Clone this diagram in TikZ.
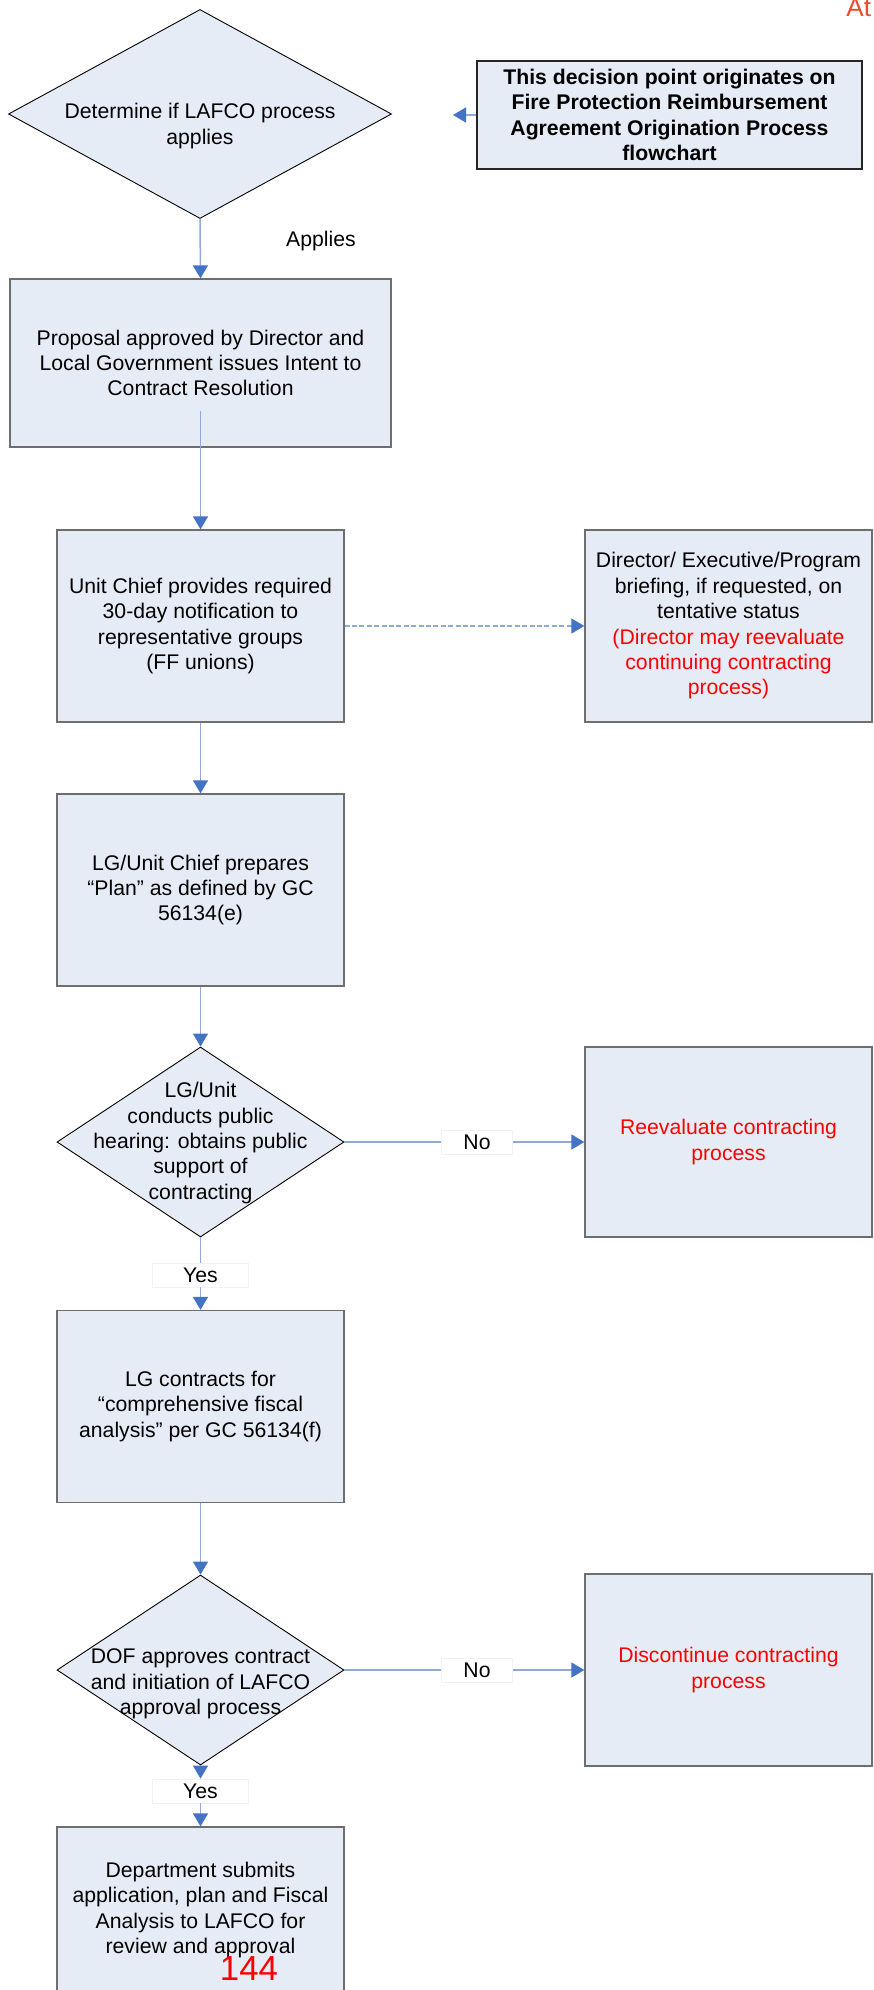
\documentclass[tikz,border=0pt]{standalone}
\usepackage{fontspec}
\setmainfont{Liberation Sans}
\usetikzlibrary{positioning,arrows.meta,shapes.geometric}
\definecolor{boxfill}{HTML}{E6ECF6}
\definecolor{boxline}{HTML}{6E6E6E}
\definecolor{linkblue}{HTML}{8EAADB}
\definecolor{tipblue}{HTML}{4472C4}
\definecolor{notered}{HTML}{FF0000}
\definecolor{pagered}{HTML}{EC4A2C}
\newcommand{\chartfont}{\fontsize{10.6}{12.7}\selectfont}

\begin{document}
\begin{tikzpicture}[x=0.5pt,y=-0.5pt,
    every node/.style={font=\chartfont},
    procbox/.style={rectangle,draw=boxline,line width=0.65pt,fill=boxfill,align=center,
      minimum width=143.5pt,minimum height=96pt,inner sep=2pt},
    decision/.style={diamond,draw=black,line width=0.45pt,fill=boxfill,
      minimum width=143.5pt,minimum height=95pt,inner sep=0pt},
    dtext/.style={align=center,inner sep=0pt},
    answer/.style={fill=white,draw=gray!10,minimum height=12pt,inner sep=0pt},
    link/.style={linkblue,line width=0.75pt},
    arrow/.style={link,-{Triangle[length=6.5pt,width=7.5pt,color=tipblue]}},
    dasharrow/.style={arrow,dash pattern=on 2.5pt off 1.2pt},
  ]
  \useasboundingbox (0,0) rectangle (873,1990);
  \node[decision,minimum width=191.5pt,minimum height=104.5pt] (lafco) at (200,114) {};
  \node[dtext] (lafcotxt) at (200,126) {Determine if LAFCO process\\applies};
  \node[procbox,draw=black!85,line width=0.75pt,minimum width=192.5pt,minimum height=54pt,
    font=\chartfont\bfseries] (origin) at (669.5,115)
    {This decision point originates on\\Fire Protection Reimbursement\\Agreement Origination Process\\flowchart};
  \coordinate (originend) at (453,115);
  \draw[arrow] (origin.west) -- (originend);
  \node (applies) at (321,241) {Applies};
  \node[procbox,minimum width=190.5pt,minimum height=84pt] (intent) at (200.5,363)
    {Proposal approved by Director and\\Local Government issues Intent to\\Contract Resolution};
  \draw[arrow] (lafco.south) -- (intent.north);
  \node[procbox] (notify) at (200.5,626)
    {Unit Chief provides required\\30-day notification to\\representative groups\\(FF unions)};
  \node[procbox] (brief) at (728.5,626)
    {Director/ Executive/Program\\briefing, if requested, on\\tentative status\\
     \textcolor{notered}{(Director may reevaluate}\\\textcolor{notered}{continuing contracting}\\
     \textcolor{notered}{process)}};
  \draw[arrow] ([yshift=18.5pt]intent.south) -- (notify.north);
  \draw[dasharrow] (notify.east) -- (brief.west);
  \node[procbox] (plan) at (200.5,890) {LG/Unit Chief prepares\\“Plan” as defined by GC\\56134(e)};
  \draw[arrow] (notify) -- (plan);
  \node[decision] (hearing) at (200.5,1142) {};
  \node[dtext] (hearingtxt) at (200.5,1143)
    {LG/Unit\\conducts public\\hearing: obtains public\\support of\\contracting};
  \draw[arrow] (plan) -- (hearing);
  \node[procbox,minimum height=95pt] (reeval) at (728.5,1142)
    {\textcolor{notered}{Reevaluate contracting}\\\textcolor{notered}{process}};
  \node[answer,minimum width=35.5pt] (no1) at (477,1142) {No};
  \draw[link] (hearing.east) -- (no1.west);
  \draw[arrow] (no1.east) -- (reeval.west);
  \node[answer,minimum width=48pt] (yes1) at (200.5,1275) {Yes};
  \draw[link] (hearing.south) -- (yes1.north);
  \node[procbox] (fiscal) at (200.5,1406.5)
    {LG contracts for\\“comprehensive fiscal\\analysis” per GC 56134(f)};
  \draw[arrow] (yes1.south) -- (fiscal.north);
  \node[decision] (dof) at (200.5,1670) {};
  \node[dtext] (doftxt) at (200.5,1684) {DOF approves contract\\and initiation of LAFCO\\approval process};
  \draw[arrow] (fiscal) -- (dof);
  \node[procbox] (discont) at (728.5,1670)
    {\textcolor{notered}{Discontinue contracting}\\\textcolor{notered}{process}};
  \node[answer,minimum width=35.5pt] (no2) at (477,1670) {No};
  \draw[link] (dof.east) -- (no2.west);
  \draw[arrow] (no2.east) -- (discont.west);
  \node[answer,minimum width=48pt] (yes2) at (200.5,1791) {Yes};
  \draw[arrow] (dof.south) -- (yes2.north);
  \node[procbox,minimum height=83pt] (submit) at (200.5,1910)
    {Department submits\\application, plan and Fiscal\\Analysis to LAFCO for\\review and approval};
  \draw[arrow] (yes2.south) -- (submit.north);
  \node[text=notered,font=\fontsize{17.4}{20}\selectfont,anchor=base,inner sep=0pt] (pageno) at (249,1980) {144};
  \node[text=pagered,font=\fontsize{13}{15}\selectfont,anchor=base west,inner sep=0pt] (attach) at (846,17) {At};
\end{tikzpicture}
\end{document}
